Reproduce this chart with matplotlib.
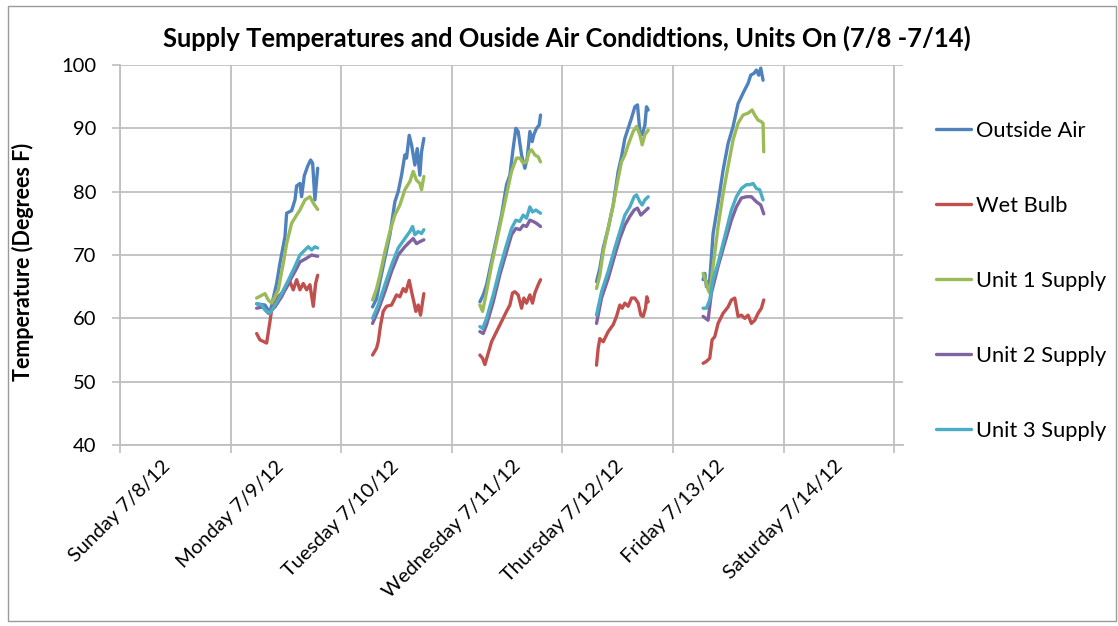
import numpy as np
import matplotlib
matplotlib.use("Agg")
import matplotlib.pyplot as plt
from matplotlib.patches import Rectangle

plt.rcParams['font.family'] = ['Lato', 'DejaVu Sans']

# ---------------- data ----------------
title = "Supply Temperatures and Ouside Air Condidtions, Units On (7/8 -7/14)"
y_label = "Temperature (Degrees F)"
tick_labels = ["Sunday 7/8/12", "Monday 7/9/12", "Tuesday 7/10/12", "Wednesday 7/11/12",
               "Thursday 7/12/12", "Friday 7/13/12", "Saturday 7/14/12", ""]
series_names = ["Outside Air", "Wet Bulb", "Unit 1 Supply", "Unit 2 Supply", "Unit 3 Supply"]
series_colors = ["#4F81BD", "#C0504D", "#9BBB59", "#8064A2", "#4BACC6"]

# day index (0 = Sunday 7/8/12) of each operating day
day_index = [1, 2, 3, 4, 5]

# Outside Air: hours of day and temperatures (F), one list per operating day
oa_hours = [
    [5.65, 7.46, 8.54, 9.99, 10.71, 11.8, 12.16, 13.24, 13.97, 14.33, 15.05, 15.41, 15.99, 16.71, 17.36, 17.8, 18.3, 18.9],
    [6.81, 7.68, 8.4, 9.48, 10.57, 11.65, 12.37, 13.1, 13.82, 14.18, 14.76, 15.27, 15.99, 16.5, 17.07, 17.44, 17.94],
    [6.1, 6.82, 7.55, 8.63, 9.71, 10.8, 11.88, 12.61, 13.33, 13.91, 14.41, 15.14, 15.86, 16.37, 16.95, 17.45, 17.81, 18.39, 18.97, 19.26],
    [7.41, 8.13, 8.86, 9.94, 11.03, 12.11, 12.83, 13.56, 14.28, 15.0, 15.73, 16.3, 16.81, 17.32, 17.9, 18.26, 18.62],
    [6.54, 6.9, 7.26, 7.98, 8.71, 9.79, 10.88, 11.96, 13.05, 14.13, 14.85, 15.58, 16.3, 16.88, 17.6, 18.11, 18.61, 19.05, 19.55],
]
oa_temps = [
    [62.3, 62.1, 60.9, 65.5, 68.7, 72.9, 76.6, 77.0, 78.7, 80.9, 81.3, 79.2, 82.5, 84.0, 85.0, 84.5, 78.7, 83.7],
    [61.8, 63.1, 65.8, 69.5, 73.2, 78.4, 80.0, 82.6, 85.8, 85.3, 88.9, 87.4, 84.2, 86.8, 82.6, 86.3, 88.4],
    [62.6, 63.7, 65.3, 69.0, 72.6, 76.3, 81.1, 82.6, 86.9, 90.0, 89.5, 85.8, 83.7, 85.3, 89.5, 87.9, 89.0, 90.0, 90.5, 92.1],
    [65.8, 67.9, 71.1, 74.2, 77.9, 83.2, 85.5, 88.4, 90.0, 91.6, 93.4, 93.7, 89.5, 89.0, 90.5, 93.4, 92.9],
    [66.1, 67.1, 65.0, 66.1, 73.4, 78.2, 83.4, 87.6, 90.3, 93.9, 95.0, 96.1, 97.1, 98.4, 98.7, 99.2, 98.4, 99.5, 97.6],
]

# Wet Bulb
wb_hours = [
    [5.65, 6.37, 7.82, 8.54, 8.9, 10.35, 11.8, 12.88, 13.6, 14.33, 15.05, 15.77, 16.5, 17.22, 17.94, 18.45, 18.9],
    [6.81, 7.68, 8.04, 8.54, 9.12, 9.84, 10.93, 12.01, 12.74, 13.46, 14.04, 14.76, 15.27, 15.77, 16.2, 16.71, 17.22, 17.94],
    [6.1, 6.68, 7.18, 7.91, 8.63, 9.71, 10.8, 11.88, 12.61, 13.18, 13.69, 14.41, 15.14, 15.64, 16.22, 16.95, 17.52, 18.03, 18.75, 19.26],
    [7.41, 7.77, 8.13, 8.86, 9.94, 11.03, 11.75, 12.47, 12.98, 13.56, 14.28, 15.0, 15.73, 16.45, 17.03, 17.53, 18.04, 18.33, 18.62],
    [6.54, 7.26, 7.98, 8.49, 9.07, 9.79, 10.88, 11.96, 12.68, 13.41, 14.13, 14.85, 15.58, 16.3, 17.02, 17.75, 18.47, 19.19, 19.7],
]
wb_temps = [
    [57.6, 56.6, 56.1, 59.5, 61.3, 63.4, 64.5, 65.8, 64.5, 66.1, 64.5, 65.5, 64.5, 65.3, 61.9, 65.5, 66.8],
    [54.2, 55.3, 56.3, 58.9, 61.1, 61.9, 62.1, 63.7, 63.4, 64.7, 64.2, 66.0, 64.2, 62.6, 61.1, 62.1, 60.5, 63.9],
    [54.2, 53.7, 52.7, 54.5, 56.3, 57.9, 59.5, 61.1, 62.1, 64.0, 64.2, 63.7, 61.6, 63.2, 62.4, 63.7, 62.4, 64.0, 65.3, 66.1],
    [52.6, 55.3, 56.8, 56.3, 57.9, 59.0, 60.3, 62.1, 61.6, 62.4, 61.9, 63.2, 63.2, 62.4, 60.5, 60.3, 61.6, 63.4, 62.6],
    [52.9, 53.2, 53.7, 56.6, 57.1, 59.2, 60.8, 61.8, 62.9, 63.2, 60.3, 60.5, 60.0, 60.5, 59.2, 59.7, 60.8, 61.6, 62.9],
]

# Unit 1 Supply
u1_hours = [
    [5.65, 7.46, 8.18, 8.9, 10.35, 11.44, 12.16, 13.24, 14.33, 15.05, 16.14, 17.22, 17.94, 18.9],
    [6.81, 7.68, 8.4, 9.48, 10.57, 11.65, 12.74, 13.82, 14.9, 15.63, 16.35, 17.07, 17.44, 17.94],
    [6.1, 6.68, 7.55, 8.63, 9.71, 10.8, 11.88, 12.97, 14.05, 14.77, 15.5, 16.22, 16.8, 17.31, 18.03, 18.75, 19.26],
    [7.41, 8.13, 8.86, 9.94, 11.03, 12.11, 12.83, 13.56, 14.28, 15.36, 16.09, 16.81, 17.32, 17.9, 18.62],
    [6.54, 7.04, 7.62, 7.98, 8.71, 9.79, 10.88, 11.96, 13.05, 14.13, 15.21, 16.3, 17.17, 17.75, 18.47, 19.05, 19.55, 19.7],
]
u1_temps = [
    [63.2, 63.9, 62.9, 62.4, 64.5, 68.7, 71.8, 75.0, 76.3, 77.1, 78.7, 79.2, 78.2, 77.2],
    [62.9, 64.7, 66.8, 70.5, 73.7, 76.3, 77.9, 80.3, 81.6, 83.2, 81.8, 81.3, 80.3, 82.4],
    [62.1, 61.1, 64.2, 68.4, 72.1, 75.8, 79.5, 83.2, 85.3, 85.3, 84.5, 84.7, 86.3, 86.6, 85.8, 85.5, 84.7],
    [64.7, 66.8, 70.5, 74.2, 77.9, 82.1, 84.7, 85.8, 87.4, 89.5, 90.3, 89.0, 87.4, 89.0, 89.7],
    [67.1, 66.1, 64.5, 64.0, 68.2, 74.5, 79.7, 84.0, 88.2, 90.8, 92.1, 92.4, 92.9, 92.1, 91.3, 91.1, 90.8, 86.3],
]

# Unit 2 Supply
u2_hours = [
    [5.65, 7.1, 8.18, 9.63, 11.07, 12.52, 13.97, 15.05, 16.5, 17.58, 18.9],
    [6.81, 8.04, 9.48, 10.93, 12.37, 13.82, 14.9, 15.63, 16.35, 17.07, 17.94],
    [6.1, 6.82, 7.55, 9.0, 10.44, 11.88, 12.97, 13.91, 14.77, 15.5, 16.22, 16.95, 17.67, 18.39, 19.26],
    [7.41, 8.5, 9.94, 11.39, 12.47, 13.56, 14.64, 15.58, 16.3, 17.03, 17.75, 18.62],
    [6.54, 7.62, 8.34, 9.79, 11.24, 12.68, 13.77, 14.85, 15.94, 17.02, 18.11, 19.05, 19.7],
]
u2_temps = [
    [61.6, 61.8, 60.8, 61.8, 63.4, 65.5, 67.4, 68.9, 69.5, 70.0, 69.8],
    [59.2, 61.3, 64.2, 67.4, 70.0, 71.3, 72.1, 72.6, 71.8, 72.1, 72.4],
    [57.9, 57.6, 59.0, 62.6, 66.9, 70.5, 73.2, 74.2, 74.0, 74.7, 74.5, 75.5, 75.3, 75.0, 74.5],
    [59.2, 63.2, 66.3, 70.0, 72.6, 74.7, 76.1, 77.1, 77.4, 76.3, 76.8, 77.4],
    [60.3, 59.7, 64.0, 68.2, 71.9, 75.5, 77.6, 79.0, 79.2, 79.2, 78.4, 77.9, 76.5],
]

# Unit 3 Supply
u3_hours = [
    [5.65, 6.74, 7.46, 8.54, 9.63, 11.07, 12.52, 13.97, 15.05, 16.14, 16.86, 17.58, 18.3, 18.9],
    [6.81, 8.04, 9.48, 10.93, 12.37, 13.82, 14.9, 15.48, 15.99, 16.71, 17.44, 17.94],
    [6.1, 6.68, 7.55, 9.0, 10.44, 11.88, 12.97, 13.91, 14.77, 15.5, 16.22, 16.95, 17.52, 18.25, 19.26],
    [7.41, 8.5, 9.94, 11.39, 12.47, 13.56, 14.64, 15.58, 16.09, 16.81, 17.32, 17.9, 18.62],
    [6.54, 7.26, 7.98, 8.71, 9.79, 11.24, 12.68, 13.77, 14.85, 15.94, 16.66, 17.38, 18.11, 18.83, 19.55],
]
u3_temps = [
    [62.3, 62.1, 61.3, 60.8, 62.1, 63.9, 66.0, 68.2, 70.0, 70.8, 71.3, 70.8, 71.3, 71.1],
    [60.0, 62.1, 65.3, 68.4, 71.1, 72.6, 73.7, 74.5, 73.2, 73.7, 73.4, 74.0],
    [58.7, 58.4, 60.0, 63.7, 67.9, 71.6, 74.2, 75.5, 75.3, 76.3, 75.8, 77.6, 76.8, 77.1, 76.6],
    [60.5, 64.2, 67.4, 71.1, 73.7, 76.3, 77.6, 79.2, 79.5, 78.4, 77.9, 78.7, 79.2],
    [61.6, 61.6, 62.9, 66.1, 68.7, 72.9, 77.1, 79.2, 80.5, 81.1, 81.1, 81.3, 80.5, 80.3, 78.7],
]

all_hours = [oa_hours, wb_hours, u1_hours, u2_hours, u3_hours]
all_temps = [oa_temps, wb_temps, u1_temps, u2_temps, u3_temps]


def build_series(hours, temps):
    xs, ys = [], []
    for d, h, t in zip(day_index, hours, temps):
        xs.extend([d + hh / 24.0 for hh in h])
        ys.extend(t)
        xs.append(np.nan)
        ys.append(np.nan)
    return np.array(xs), np.array(ys)


# ---------------- figure ----------------
W, H = 1118, 626
fig = plt.figure(figsize=(W / 100, H / 100), dpi=100)
ax = fig.add_axes([120 / W, 1 - 445 / H, (903 - 120) / W, (445 - 65) / H])

grid_c = "#BFBFBF"
for name, col, hrs, tmp in zip(series_names, series_colors, all_hours, all_temps):
    x, y = build_series(hrs, tmp)
    ax.plot(x, y, color=col, lw=2.4, label=name, solid_joinstyle='round', solid_capstyle='round')

ax.set_xlim(0, 7.08)
ax.set_ylim(40, 100)
ax.set_yticks(np.arange(40, 101, 10))
ax.set_xticks(np.arange(0, 8))
ax.set_xticklabels(tick_labels, rotation=45, ha='center', va='top', fontsize=14.5)
ax.tick_params(axis='x', length=6, color=grid_c, width=1.2, pad=3)
ax.tick_params(axis='y', length=6, color=grid_c, width=1.2, labelsize=14.5, pad=11)
ax.grid(True, color=grid_c, lw=1.3)
ax.set_axisbelow(True)
for s in ['top', 'right']:
    ax.spines[s].set_visible(False)
for s in ['left', 'bottom']:
    ax.spines[s].set_color(grid_c)
    ax.spines[s].set_linewidth(1.3)

ax.set_ylabel(y_label, fontsize=15.5, fontweight='bold')
ax.yaxis.set_label_coords((34 - 120) / 783, (445 - 262) / 380)
fig.text(567 / W, 1 - 38 / H, title, ha='center', va='center', fontsize=18.4, fontweight='bold')

leg = ax.legend(loc='upper left', bbox_to_anchor=(936 / W, 1 - 121 / H), bbox_transform=fig.transFigure,
                frameon=False, fontsize=15.75, handlelength=1.6, handletextpad=0.25,
                labelspacing=2.51, borderaxespad=0, borderpad=0)
for line in leg.get_lines():
    line.set_linewidth(2.4)

fig.patches.append(Rectangle((8 / W, 1 - 621 / H), (1116 - 8) / W, (621 - 6) / H,
                             transform=fig.transFigure, fill=False, edgecolor="#9A9A9A", lw=1.0))

fig.savefig("out.png", dpi=100)
